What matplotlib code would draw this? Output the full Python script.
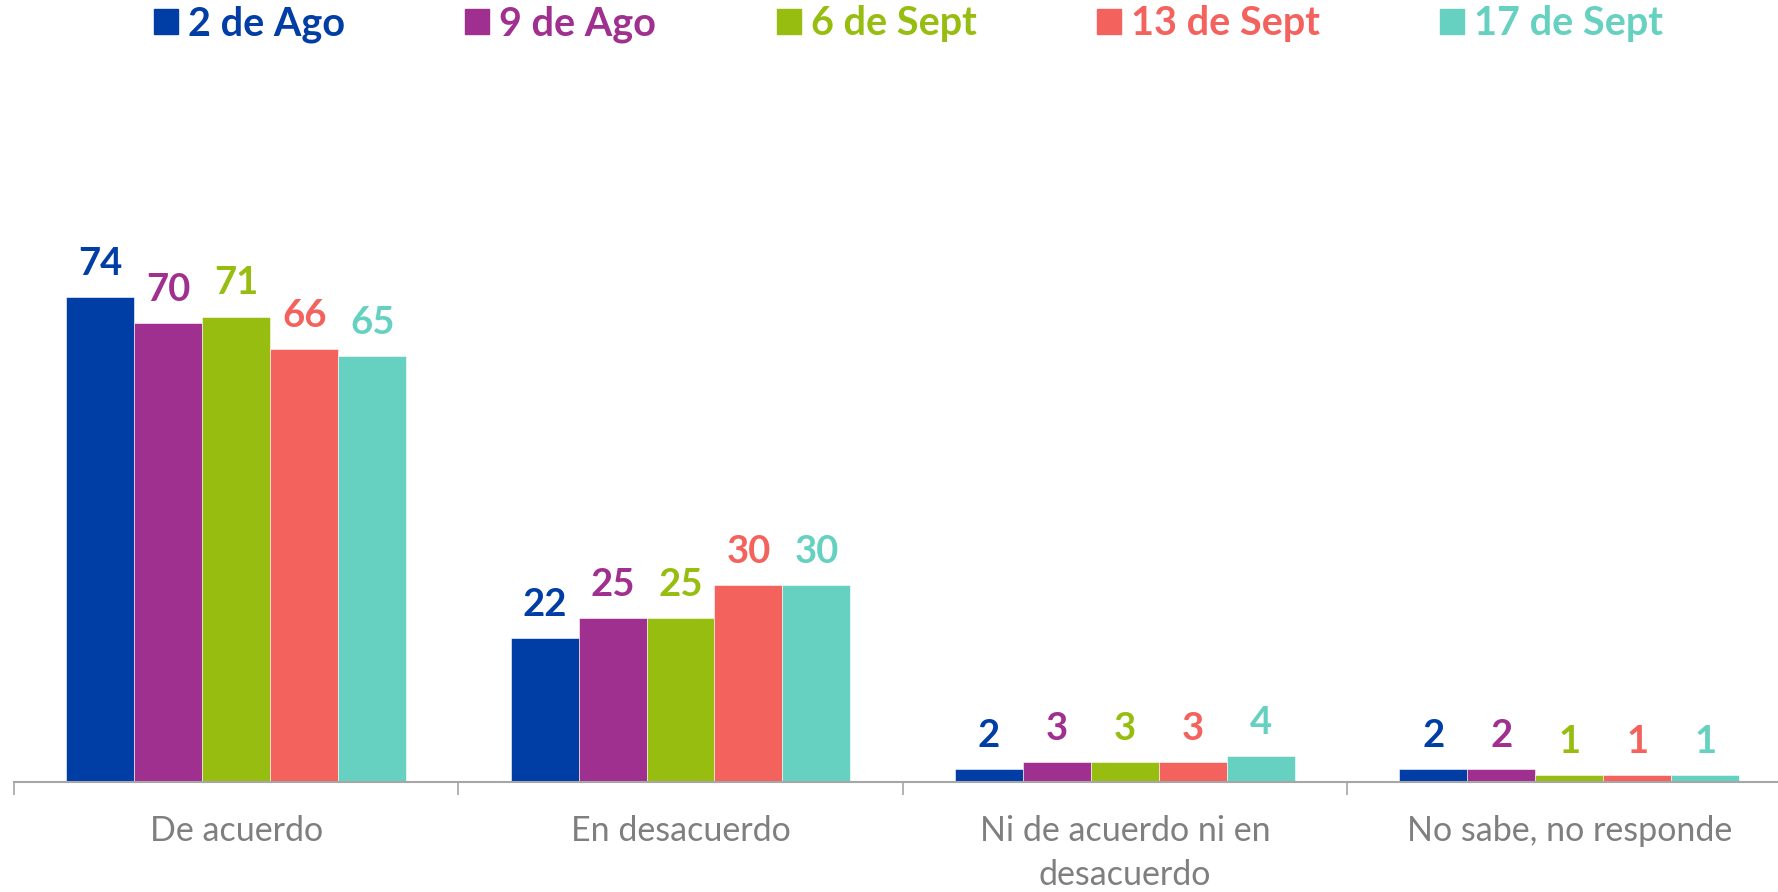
import matplotlib.pyplot as plt
import numpy as np
from matplotlib.patches import Patch

categories = ["De acuerdo", "En desacuerdo", "Ni de acuerdo ni en\ndesacuerdo", "No sabe, no responde"]
series_names = ["2 de Ago", "9 de Ago", "6 de Sept", "13 de Sept", "17 de Sept"]
ago_2 = [74, 22, 2, 2]
ago_9 = [70, 25, 3, 2]
sept_6 = [71, 25, 3, 1]
sept_13 = [66, 30, 3, 1]
sept_17 = [65, 30, 4, 1]
values = [ago_2, ago_9, sept_6, sept_13, sept_17]
colors = ["#003DA5", "#A0308F", "#97BD11", "#F4625D", "#66D1C1"]

plt.rcParams['font.family'] = ['Lato', 'DejaVu Sans']

fig = plt.figure(figsize=(17.78, 8.92), dpi=100)
ax = fig.add_axes([14 / 1778, 110 / 892, 1764 / 1778, 590 / 892])

x = np.arange(len(categories))
width = 0.153
for i, (name, vals, col) in enumerate(zip(series_names, values, colors)):
    pos = x + (i - 2) * width
    ax.bar(pos, vals, width, color=col, edgecolor="white", linewidth=0.4, label=name)
    for p, v in zip(pos, vals):
        ax.annotate(str(v), (p, v), xytext=(0, 16), textcoords="offset points",
                    ha="center", va="baseline", fontsize=27.5, fontweight="bold", color=col)

ax.set_xlim(-0.5, 3.47)
ax.set_ylim(0, 90)
for s in ["top", "right", "left"]:
    ax.spines[s].set_visible(False)
ax.spines["bottom"].set_color("#A6A6A6")
ax.spines["bottom"].set_linewidth(1.5)
ax.set_yticks([])
ax.set_xticks(x)
ax.set_xticklabels(categories, fontsize=24.5, color="#7F7F7F", linespacing=1.45)
ax.tick_params(axis="x", which="major", length=0, pad=24)
ax.set_xticks([-0.5, 0.5, 1.5, 2.5], minor=True)
ax.tick_params(axis="x", which="minor", length=9, width=1.2, color="#A6A6A6", direction="out")

handles = [Patch(facecolor=c, edgecolor=c) for c in colors]
fig.legend(handles, series_names, loc="center", bbox_to_anchor=(0.511, 0.973), ncol=5,
           frameon=False, handlelength=0.6, handleheight=0.6, handletextpad=0.25,
           columnspacing=3.05, labelcolor=colors,
           prop={"size": 28.5, "weight": "bold"})

fig.savefig("out.png", dpi=100)
